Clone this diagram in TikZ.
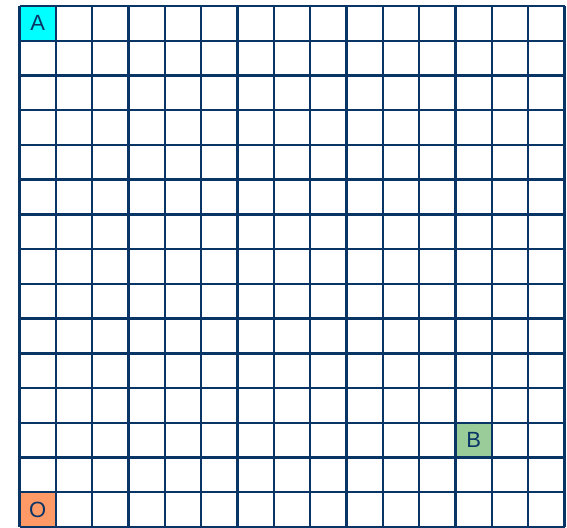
\documentclass[tikz,border=0pt]{standalone}
\usepackage{fontspec}
\setmainfont{Liberation Sans}
\definecolor{navy}{RGB}{8,52,102}
\definecolor{cellA}{RGB}{0,255,255}
\definecolor{cellB}{RGB}{153,204,153}
\definecolor{cellO}{RGB}{255,153,102}
\tikzset{
  cell/.style={minimum width=36.33pt, minimum height=34.73pt, inner sep=0pt, draw=none,
    text=navy, font=\fontsize{22}{22}\selectfont},
  gridline/.style={draw=navy, line width=2.4pt}
}
\begin{document}
\begin{tikzpicture}[x=1pt,y=-1pt]
\useasboundingbox (0,0) rectangle (567,527);
\node[cell, fill=cellA] (A) at (37.67,23.37) {A};
\node[cell, fill=cellB] (B) at (473.67,440.17) {B};
\node[cell, fill=cellO] (O) at (37.67,509.63) {O};
\foreach \i in {0,...,15} {
  \draw[gridline] (19.5+\i*36.333,6) -- (19.5+\i*36.333,527);
  \draw[gridline] (19.5,6+\i*34.733) -- (564.5,6+\i*34.733);
}
\end{tikzpicture}
\end{document}
